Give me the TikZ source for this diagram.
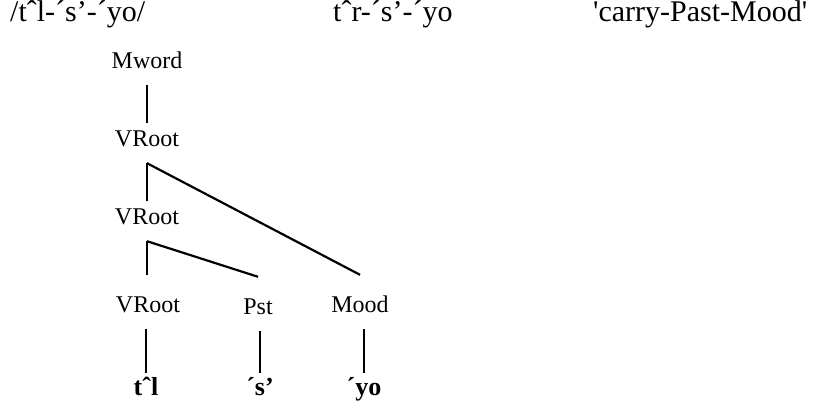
\documentclass[tikz,border=0pt]{standalone}
\usepackage{fontspec}
\setmainfont{Liberation Serif}
\usetikzlibrary{positioning}

\begin{document}
\begin{tikzpicture}[x=1pt, y=1pt,
    form/.style={inner sep=0pt, anchor=base west, font=\fontsize{30}{34}\selectfont},
    cat/.style={inner sep=0pt, anchor=base, text height=24pt, text depth=16pt, font=\fontsize{24}{28}\selectfont},
    leaf/.style={cat, text height=38pt},
    morph/.style={inner sep=0pt, anchor=base, text height=22pt, font=\fontsize{26}{30}\selectfont\bfseries},
    branch/.style={line width=2.2pt}]
\useasboundingbox (0,0) rectangle (825,402);

% Forms and gloss
\node[form] (under) at (10,380) {/tˆl-´s’-´yo/};
\node[form] (surf)  at (333,380) {tˆr-´s’-´yo};
\node[form] (gloss) at (593,380) {\textquotesingle carry-Past-Mood\textquotesingle};

% Tree
\node[cat]  (mw)  at (147,333) {Mword};
\node[cat]  (vr1) at (147,255) {VRoot};
\node[cat]  (vr2) at (147,177) {VRoot};
\node[leaf] (vr3) at (148,89) {VRoot};
\node[leaf] (pst) at (258,87) {Pst};
\node[leaf] (mood) at (360,89) {Mood};

% Morphs
\node[morph] (tl) at (146,7) {tˆl};
\node[morph] (s)  at (260,7) {´s’};
\node[morph] (yo) at (364,7) {´yo};

% Branches
\draw[branch] (mw.south) -- (vr1.north);
\draw[branch] (vr1.south) -- (vr2.north);
\draw[branch] (vr1.south) -- (mood.north);
\draw[branch] (vr2.south) -- (vr2.south |- vr3.north);
\draw[branch] (vr2.south) -- (pst.north);
\foreach \a/\b in {vr3/tl, pst/s, mood/yo} {
    \draw[branch] (\b.north |- \a.south) -- (\b.north);
}

\end{tikzpicture}
\end{document}
